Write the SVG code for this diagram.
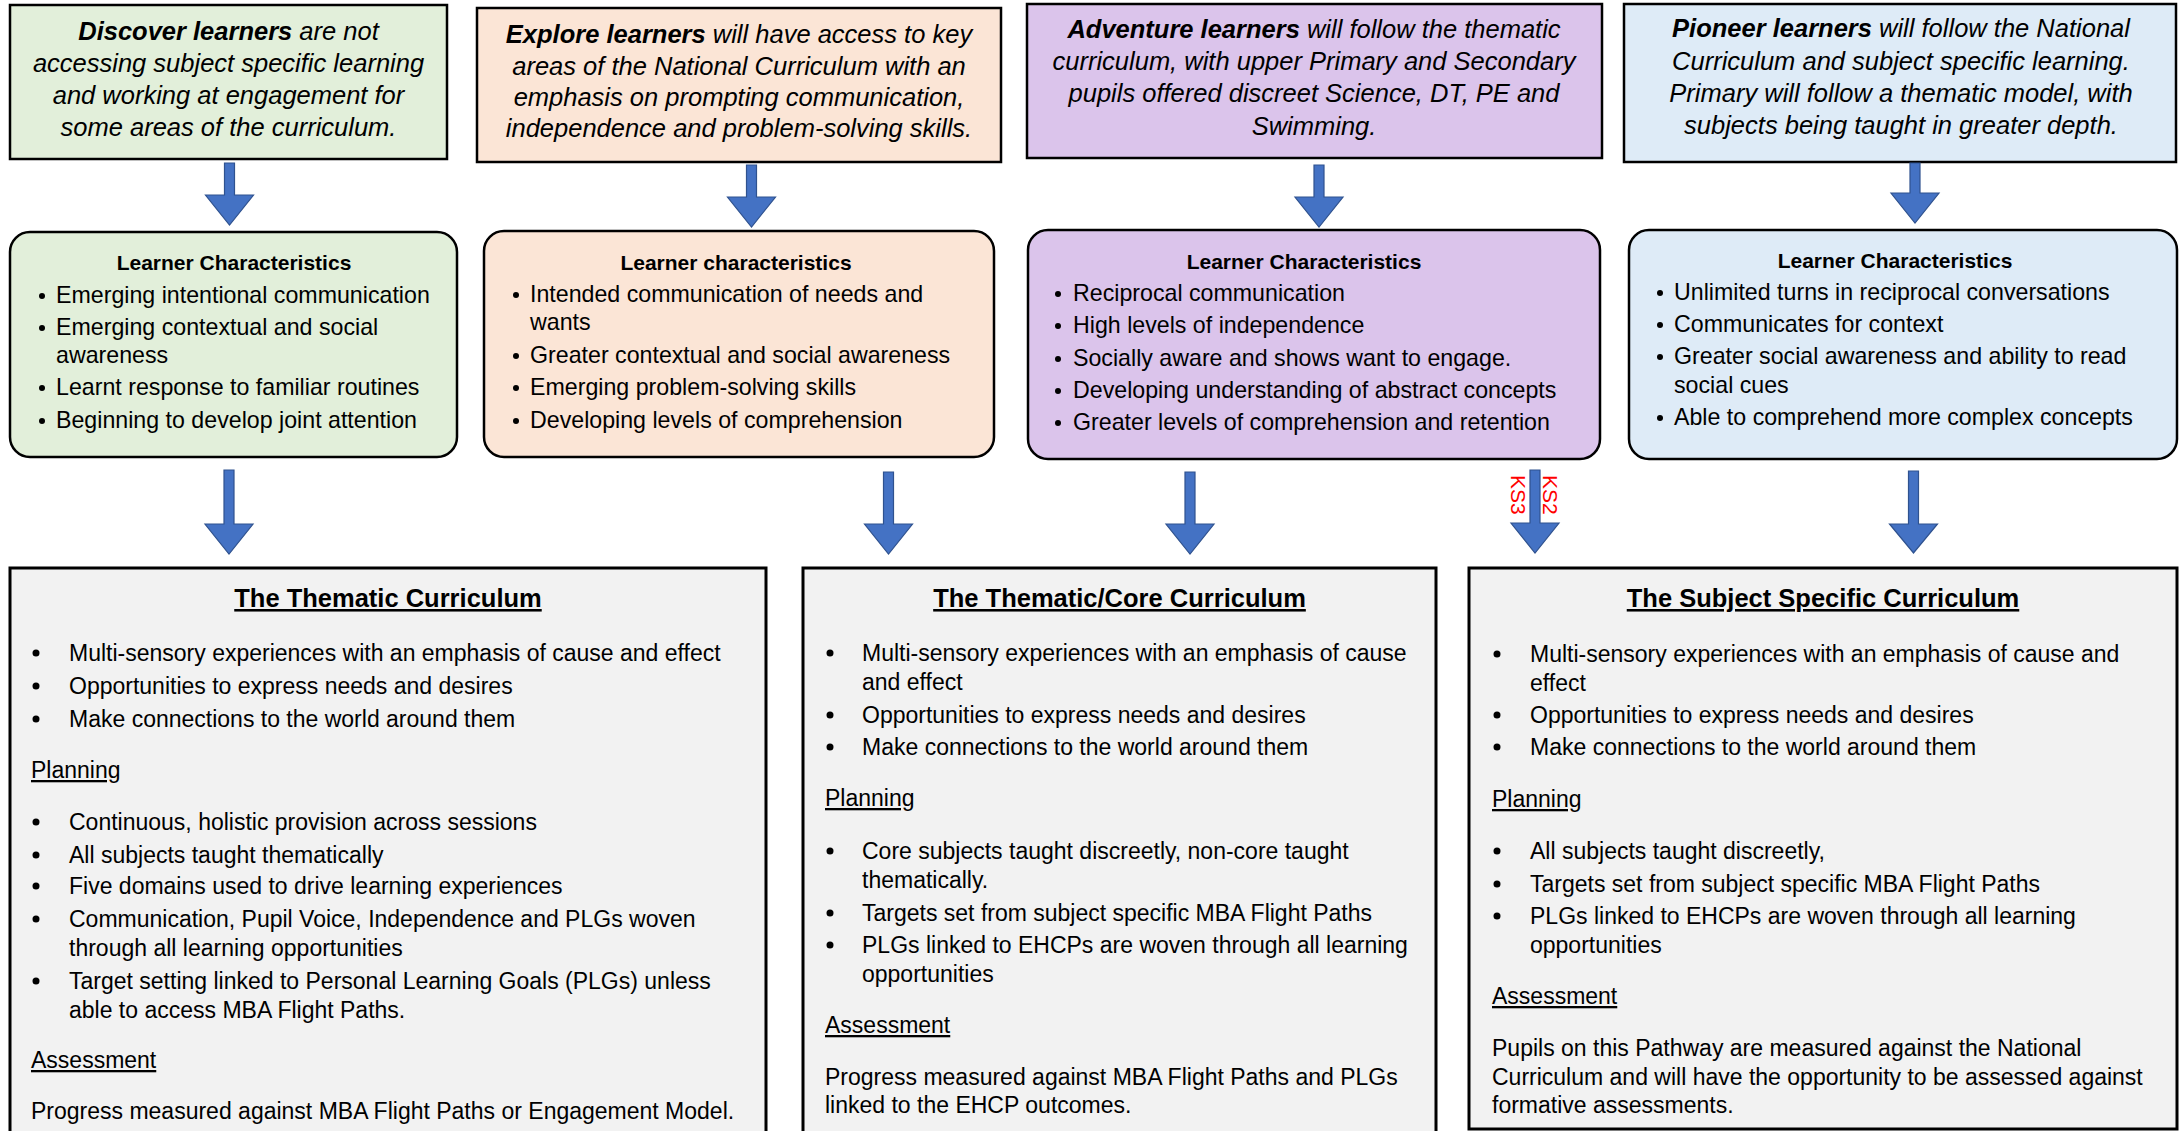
<svg xmlns="http://www.w3.org/2000/svg" width="2179" height="1131" viewBox="0 0 2179 1131">
<style>
  text { font-family: "Liberation Sans", Arial, sans-serif; fill: #000; }
  .top { font-size: 25.5px; font-style: italic; text-anchor: middle; }
  .b { font-weight: bold; }
  .ch { font-size: 23.2px; }
  .cht { font-size: 21px; font-weight: bold; text-anchor: middle; }
  .cu { font-size: 23px; }
  .cut { font-size: 25.5px; font-weight: bold; text-anchor: middle; text-decoration: underline; }
  .u { text-decoration: underline; }
  .box { stroke: #000; stroke-width: 2.5; }
  .cbox { stroke: #000; stroke-width: 2.5; }
  .curbox { fill: #F2F2F2; stroke: #000; stroke-width: 3; }
  .arrow { fill: #4472C4; stroke: #2F528F; stroke-width: 1.2; }
  .dot { fill: #000; }
  .ks { font-size: 21px; fill: #FF0000; }
  .green { fill: #E2EFDA; } .peach { fill: #FBE5D6; } .purple { fill: #DBC4EB; } .blue { fill: #DEEBF7; }
</style>
<rect width="2179" height="1131" fill="#FFFFFF"/>

<g id="discover">
  <rect class="box green" x="10" y="5" width="437" height="154"/>
  <text class="top" x="228.5" y="39.5"><tspan class="b">Discover learners</tspan> are not</text>
  <text class="top" x="228.5" y="71.5">accessing subject specific learning</text>
  <text class="top" x="228.5" y="103.5">and working at engagement for</text>
  <text class="top" x="228.5" y="135.5">some areas of the curriculum.</text>
</g>
<g id="explore">
  <rect class="box peach" x="477" y="8" width="524" height="154"/>
  <text class="top" x="739" y="43"><tspan class="b">Explore learners</tspan> will have access to key</text>
  <text class="top" x="739" y="75">areas of the National Curriculum with an</text>
  <text class="top" x="739" y="106">emphasis on prompting communication,</text>
  <text class="top" x="739" y="137">independence and problem-solving skills.</text>
</g>
<g id="adventure">
  <rect class="box purple" x="1027" y="4" width="575" height="154"/>
  <text class="top" x="1314" y="38"><tspan class="b">Adventure learners</tspan> will follow the thematic</text>
  <text class="top" x="1314" y="70">curriculum, with upper Primary and Secondary</text>
  <text class="top" x="1314" y="102">pupils offered discreet Science, DT, PE and</text>
  <text class="top" x="1314" y="135">Swimming.</text>
</g>
<g id="pioneer">
  <rect class="box blue" x="1624" y="4" width="552" height="158"/>
  <text class="top" x="1901" y="37"><tspan class="b">Pioneer learners</tspan> will follow the National</text>
  <text class="top" x="1901" y="70">Curriculum and subject specific learning.</text>
  <text class="top" x="1901" y="102">Primary will follow a thematic model, with</text>
  <text class="top" x="1901" y="134">subjects being taught in greater depth.</text>
</g>

<g id="char-discover">
  <rect class="cbox green" x="10" y="232" width="447" height="225" rx="20"/>
  <text class="cht" x="234" y="270">Learner Characteristics</text>
  <circle class="dot" cx="42" cy="296" r="3"/><text class="ch" x="56" y="303">Emerging intentional communication</text>
  <circle class="dot" cx="42" cy="328" r="3"/><text class="ch" x="56" y="335">Emerging contextual and social</text>
  <text class="ch" x="56" y="363">awareness</text>
  <circle class="dot" cx="42" cy="388" r="3"/><text class="ch" x="56" y="395">Learnt response to familiar routines</text>
  <circle class="dot" cx="42" cy="421" r="3"/><text class="ch" x="56" y="428">Beginning to develop joint attention</text>
</g>
<g id="char-explore">
  <rect class="cbox peach" x="484" y="231" width="510" height="226" rx="20"/>
  <text class="cht" x="736" y="270">Learner characteristics</text>
  <circle class="dot" cx="516" cy="295" r="3"/><text class="ch" x="530" y="302">Intended communication of needs and</text>
  <text class="ch" x="530" y="330">wants</text>
  <circle class="dot" cx="516" cy="356" r="3"/><text class="ch" x="530" y="363">Greater contextual and social awareness</text>
  <circle class="dot" cx="516" cy="388" r="3"/><text class="ch" x="530" y="395">Emerging problem-solving skills</text>
  <circle class="dot" cx="516" cy="421" r="3"/><text class="ch" x="530" y="428">Developing levels of comprehension</text>
</g>
<g id="char-adventure">
  <rect class="cbox purple" x="1028" y="230" width="572" height="229" rx="20"/>
  <text class="cht" x="1304" y="269">Learner Characteristics</text>
  <circle class="dot" cx="1058" cy="294" r="3"/><text class="ch" x="1073" y="301">Reciprocal communication</text>
  <circle class="dot" cx="1058" cy="326" r="3"/><text class="ch" x="1073" y="333">High levels of independence</text>
  <circle class="dot" cx="1058" cy="359" r="3"/><text class="ch" x="1073" y="366">Socially aware and shows want to engage.</text>
  <circle class="dot" cx="1058" cy="391" r="3"/><text class="ch" x="1073" y="398">Developing understanding of abstract concepts</text>
  <circle class="dot" cx="1058" cy="423" r="3"/><text class="ch" x="1073" y="430">Greater levels of comprehension and retention</text>
</g>
<g id="char-pioneer">
  <rect class="cbox blue" x="1629" y="230" width="548" height="229" rx="20"/>
  <text class="cht" x="1895" y="268">Learner Characteristics</text>
  <circle class="dot" cx="1660" cy="293" r="3"/><text class="ch" x="1674" y="300">Unlimited turns in reciprocal conversations</text>
  <circle class="dot" cx="1660" cy="325" r="3"/><text class="ch" x="1674" y="332">Communicates for context</text>
  <circle class="dot" cx="1660" cy="357" r="3"/><text class="ch" x="1674" y="364">Greater social awareness and ability to read</text>
  <text class="ch" x="1674" y="393">social cues</text>
  <circle class="dot" cx="1660" cy="418" r="3"/><text class="ch" x="1674" y="425">Able to comprehend more complex concepts</text>
</g>

<g id="cur-thematic">
  <rect class="curbox" x="10" y="568" width="756" height="600"/>
  <text class="cut" x="388" y="607">The Thematic Curriculum</text>
  <circle class="dot" cx="36" cy="653" r="3.5"/><text class="cu" x="69" y="661">Multi-sensory experiences with an emphasis of cause and effect</text>
  <circle class="dot" cx="36" cy="686" r="3.5"/><text class="cu" x="69" y="694">Opportunities to express needs and desires</text>
  <circle class="dot" cx="36" cy="719" r="3.5"/><text class="cu" x="69" y="727">Make connections to the world around them</text>
  <text class="cu u" x="31" y="778">Planning</text>
  <circle class="dot" cx="36" cy="822" r="3.5"/><text class="cu" x="69" y="830">Continuous, holistic provision across sessions</text>
  <circle class="dot" cx="36" cy="855" r="3.5"/><text class="cu" x="69" y="863">All subjects taught thematically</text>
  <circle class="dot" cx="36" cy="886" r="3.5"/><text class="cu" x="69" y="894">Five domains used to drive learning experiences</text>
  <circle class="dot" cx="36" cy="919" r="3.5"/><text class="cu" x="69" y="927">Communication, Pupil Voice, Independence and PLGs woven</text>
  <text class="cu" x="69" y="956">through all learning opportunities</text>
  <circle class="dot" cx="36" cy="981" r="3.5"/><text class="cu" x="69" y="989">Target setting linked to Personal Learning Goals (PLGs) unless</text>
  <text class="cu" x="69" y="1018">able to access MBA Flight Paths.</text>
  <text class="cu u" x="31" y="1068">Assessment</text>
  <text class="cu" x="31" y="1119">Progress measured against MBA Flight Paths or Engagement Model.</text>
</g>
<g id="cur-core">
  <rect class="curbox" x="803" y="568" width="633" height="600"/>
  <text class="cut" x="1119.5" y="607">The Thematic/Core Curriculum</text>
  <circle class="dot" cx="830" cy="653" r="3.5"/><text class="cu" x="862" y="661">Multi-sensory experiences with an emphasis of cause</text>
  <text class="cu" x="862" y="690">and effect</text>
  <circle class="dot" cx="830" cy="715" r="3.5"/><text class="cu" x="862" y="723">Opportunities to express needs and desires</text>
  <circle class="dot" cx="830" cy="747" r="3.5"/><text class="cu" x="862" y="755">Make connections to the world around them</text>
  <text class="cu u" x="825" y="806">Planning</text>
  <circle class="dot" cx="830" cy="851" r="3.5"/><text class="cu" x="862" y="859">Core subjects taught discreetly, non-core taught</text>
  <text class="cu" x="862" y="888">thematically.</text>
  <circle class="dot" cx="830" cy="913" r="3.5"/><text class="cu" x="862" y="921">Targets set from subject specific MBA Flight Paths</text>
  <circle class="dot" cx="830" cy="945" r="3.5"/><text class="cu" x="862" y="953">PLGs linked to EHCPs are woven through all learning</text>
  <text class="cu" x="862" y="982">opportunities</text>
  <text class="cu u" x="825" y="1033">Assessment</text>
  <text class="cu" x="825" y="1085">Progress measured against MBA Flight Paths and PLGs</text>
  <text class="cu" x="825" y="1113">linked to the EHCP outcomes.</text>
</g>
<g id="cur-subject">
  <rect class="curbox" x="1469" y="568" width="708" height="561"/>
  <text class="cut" x="1823" y="607">The Subject Specific Curriculum</text>
  <circle class="dot" cx="1497" cy="654" r="3.5"/><text class="cu" x="1530" y="662">Multi-sensory experiences with an emphasis of cause and</text>
  <text class="cu" x="1530" y="691">effect</text>
  <circle class="dot" cx="1497" cy="715" r="3.5"/><text class="cu" x="1530" y="723">Opportunities to express needs and desires</text>
  <circle class="dot" cx="1497" cy="747" r="3.5"/><text class="cu" x="1530" y="755">Make connections to the world around them</text>
  <text class="cu u" x="1492" y="807">Planning</text>
  <circle class="dot" cx="1497" cy="851" r="3.5"/><text class="cu" x="1530" y="859">All subjects taught discreetly,</text>
  <circle class="dot" cx="1497" cy="884" r="3.5"/><text class="cu" x="1530" y="892">Targets set from subject specific MBA Flight Paths</text>
  <circle class="dot" cx="1497" cy="916" r="3.5"/><text class="cu" x="1530" y="924">PLGs linked to EHCPs are woven through all learning</text>
  <text class="cu" x="1530" y="953">opportunities</text>
  <text class="cu u" x="1492" y="1004">Assessment</text>
  <text class="cu" x="1492" y="1056">Pupils on this Pathway are measured against the National</text>
  <text class="cu" x="1492" y="1085">Curriculum and will have the opportunity to be assessed against</text>
  <text class="cu" x="1492" y="1113">formative assessments.</text>
</g>

<g id="connectors">
  <path class="arrow" d="M224.5,163 H234.5 V195 H253.5 L229.5,225 L205.5,195 H224.5 Z"/>
  <path class="arrow" d="M746.5,165 H756.5 V197 H775.5 L751.5,227 L727.5,197 H746.5 Z"/>
  <path class="arrow" d="M1314,165 H1324 V197 H1343 L1319,227 L1295,197 H1314 Z"/>
  <path class="arrow" d="M1910,163 H1920 V193 H1939 L1915,223 L1891,193 H1910 Z"/>
  <path class="arrow" d="M224,470 H234 V524 H253 L229,554 L205,524 H224 Z"/>
  <path class="arrow" d="M883.5,472 H893.5 V524 H912.5 L888.5,554 L864.5,524 H883.5 Z"/>
  <path class="arrow" d="M1185,472 H1195 V524 H1214 L1190,554 L1166,524 H1185 Z"/>
  <path class="arrow" d="M1530,470 H1540 V523 H1559 L1535,553 L1511,523 H1530 Z"/>
  <path class="arrow" d="M1908.5,471 H1918.5 V524 H1937.5 L1913.5,553 L1889.5,524 H1908.5 Z"/>
  <text class="ks" transform="translate(1543,475) rotate(90)">KS2</text>
  <text class="ks" transform="translate(1511,475) rotate(90)">KS3</text>
</g>
</svg>
